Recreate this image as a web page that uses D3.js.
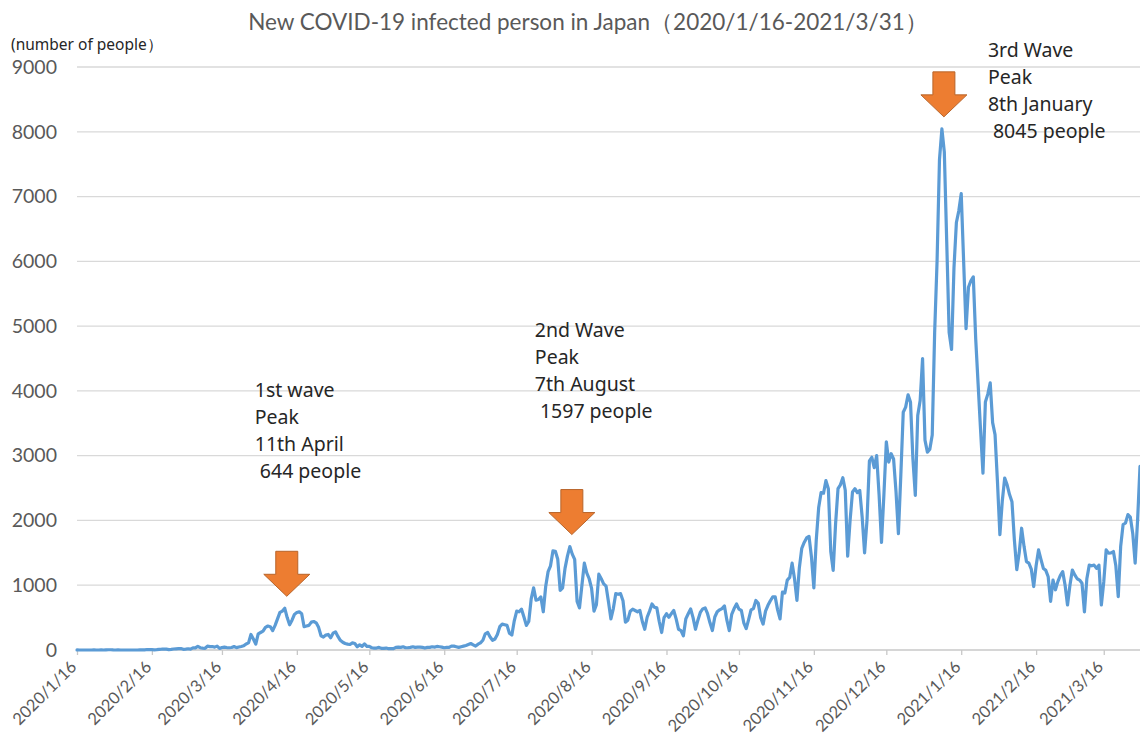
<!DOCTYPE html>
<html>
<head>
<meta charset="utf-8">
<script src="https://cdn.jsdelivr.net/npm/d3@7"></script>
<style>
  body { margin: 0; background: #fff; }
  svg { display: block; }
</style>
</head>
<body>
<svg id="chart" width="1140" height="751"></svg>
<script>
// Daily new infections in Japan, one array per month
const firstDay = "2020/1/16";
const jan2020 = [1,0,0,0,0,0,0,1,0,0,2,0,3,4,4,1];
const feb2020 = [0,1,0,0,0,0,0,0,0,0,1,1,3,8,6,5,3,5,9,12,13,14,6,10,15,18,21,23,11];
const mar2020 = [14,19,13,33,33,57,35,28,26,59,52,53,44,60,25,39,44,38,35,39,53,36,46,55,65,94,110,240,170,90,250];
const apr2020 = [270,290,350,370,360,300,380,480,580,600,644,500,390,460,550,580,590,560,360,370,380,430,440,420,350,220,200,230,240,190];
const may2020 = [260,280,210,150,120,100,90,85,110,100,50,80,55,95,55,55,35,30,30,40,25,25,30,20,20,20,40,45,40,50,35];
const jun2020 = [35,40,50,40,45,45,40,30,40,40,50,45,55,50,45,35,40,40,60,60,50,40,50,60,70,85,100,80,60,90];
const jul2020 = [110,150,250,270,200,150,170,240,360,400,390,380,260,230,450,600,590,630,510,380,440,790,960,770,780,820,590,980,1210,1300,1530];
const aug2020 = [1525,1400,920,960,1260,1450,1597,1480,1400,750,650,1000,1340,1190,1100,950,600,700,1170,1100,1020,985,740,480,640,870,860,870,760,430,460];
const sep2020 = [600,630,610,590,610,440,320,505,600,710,660,650,440,270,500,560,505,560,610,480,320,300,220,480,560,635,500,320,460,580];
const oct2020 = [635,650,560,420,300,510,590,620,640,680,460,300,550,640,710,630,610,420,330,470,620,640,765,720,500,400,600,690,760,820,820];
const nov2020 = [620,480,895,880,1080,1120,1340,1100,765,1270,1570,1660,1730,1755,1440,960,1700,2200,2430,2420,2615,2490,1520,1230,1950,2490,2550,2660,2465,1450];
const dec2020 = [2000,2440,2490,2430,2465,2050,1500,2000,2920,2975,2815,3000,2400,1660,2400,3215,2900,3030,2950,2450,1795,2700,3670,3750,3940,3830,2950,2385,3620,3850,4500];
const jan2021 = [3240,3055,3100,3320,4900,6000,7570,8045,7690,6300,4900,4640,5900,6600,6780,7045,6000,4960,5600,5700,5760,4800,4100,3400,2730,3830,3950,4125,3510,3325,2600];
const feb2021 = [1780,2300,2655,2550,2400,2290,1700,1240,1500,1880,1600,1365,1340,1250,980,1300,1545,1400,1260,1230,1130,750,1080,930,1055,1150,1210,1000];
const mar2021 = [695,1000,1235,1160,1100,1080,1030,590,1100,1310,1300,1310,1260,1310,695,1050,1545,1495,1500,1520,1300,825,1600,1935,1960,2090,2050,1800,1340,2000,2835];

const xTickLabels = ["2020/1/16","2020/2/16","2020/3/16","2020/4/16","2020/5/16","2020/6/16","2020/7/16",
  "2020/8/16","2020/9/16","2020/10/16","2020/11/16","2020/12/16","2021/1/16","2021/2/16","2021/3/16"];
const yTickValues = [0,1000,2000,3000,4000,5000,6000,7000,8000,9000];

const peakDates = ["2020/4/11","2020/8/7","2021/1/8"];
const peakValues = [644, 1597, 8045];
const peakHeads = [["1st wave","Peak","11th April"],["2nd Wave","Peak","7th August"],["3rd Wave","Peak","8th January"]];

const titleText = "New COVID-19 infected person in Japan（2020/1/16-2021/3/31）";
const unitText = "(number of people）";

// ---- build the series ----
const parse = d3.utcParse("%Y/%m/%d");
const start = parse(firstDay);
const values = [].concat(jan2020, feb2020, mar2020, apr2020, may2020, jun2020, jul2020,
  aug2020, sep2020, oct2020, nov2020, dec2020, jan2021, feb2021, mar2021);
const series = values.map((v, i) => ({ date: d3.utcDay.offset(start, i), value: v }));

const svg = d3.select("#chart");
const plot = { left: 77, right: 1140, top: 67, bottom: 650 };

const x = d3.scaleUtc()
  .domain([start, series[series.length - 1].date])
  .range([plot.left, plot.right]);
const y = d3.scaleLinear().domain([0, 9000]).range([plot.bottom, plot.top]);

const grey = "#595959";

// title
svg.append("text")
  .attr("x", 588).attr("y", 30)
  .attr("text-anchor", "middle")
  .attr("font-family", "Lato, 'Noto Sans', sans-serif")
  .attr("font-size", 22.5)
  .attr("fill", grey)
  .text(titleText);

// unit label
svg.append("text")
  .attr("x", 11).attr("y", 50)
  .attr("font-family", "'Noto Sans', sans-serif")
  .attr("font-size", 15.5)
  .attr("fill", "#262626")
  .text(unitText);

// horizontal gridlines
svg.append("g")
  .selectAll("line")
  .data(yTickValues)
  .join("line")
  .attr("x1", plot.left).attr("x2", plot.right)
  .attr("y1", d => y(d)).attr("y2", d => y(d))
  .attr("stroke", d => d === 0 ? "#c8c8c8" : "#d9d9d9")
  .attr("stroke-width", 1.3);

// y axis labels
const yAxis = d3.axisLeft(y).tickValues(yTickValues).tickSize(0).tickPadding(0)
  .tickFormat(d3.format("d"));
const gy = svg.append("g").attr("transform", "translate(57,0)").call(yAxis);
gy.select(".domain").remove();
gy.selectAll("text")
  .attr("font-family", "Lato, 'Noto Sans', sans-serif")
  .attr("font-size", 19.5)
  .attr("fill", grey);

// x axis ticks and rotated labels
const xTickDates = xTickLabels.map(parse);
const xAxis = d3.axisBottom(x).tickValues(xTickDates).tickSize(5)
  .tickFormat((d, i) => xTickLabels[i]);
const gx = svg.append("g").attr("transform", `translate(0,${plot.bottom})`).call(xAxis);
gx.select(".domain").remove();
gx.selectAll(".tick line").attr("stroke", "#c8c8c8").attr("stroke-width", 1.3);
gx.selectAll(".tick text")
  .attr("font-family", "Lato, 'Noto Sans', sans-serif")
  .attr("font-size", 16.5)
  .attr("fill", grey)
  .attr("text-anchor", "end")
  .attr("dy", null)
  .attr("y", 0)
  .attr("transform", "translate(0,18) rotate(-45)");

// the daily line
const line = d3.line().x(d => x(d.date)).y(d => y(d.value));
svg.append("path")
  .datum(series)
  .attr("d", line)
  .attr("fill", "none")
  .attr("stroke", "#5b9bd5")
  .attr("stroke-width", 3.2)
  .attr("stroke-linejoin", "round")
  .attr("stroke-linecap", "round");

// peak arrows and notes
const arrowPath = (cx, tipY) => {
  const h = 45, headH = 22, shaftW = 11, headW = 23;
  const top = tipY - h, neck = tipY - headH;
  return `M${cx - shaftW},${top}H${cx + shaftW}V${neck}H${cx + headW}L${cx},${tipY}L${cx - headW},${neck}H${cx - shaftW}Z`;
};
const noteOffsets = [-30, -35, 46];
const noteTops = [397, 337, 57];

peakDates.forEach((ds, i) => {
  const d = parse(ds);
  const px = x(d), py = y(peakValues[i]);
  svg.append("path")
    .attr("d", arrowPath(px + 2, py - 12))
    .attr("fill", "#ed7d31")
    .attr("stroke", "#b8642a")
    .attr("stroke-width", 1);

  const lines = peakHeads[i].concat([" " + peakValues[i] + " people"]);
  const t = svg.append("text")
    .attr("font-family", "'Noto Sans', sans-serif")
    .attr("font-size", 19.5)
    .attr("fill", "#262626")
    .style("white-space", "pre");
  lines.forEach((s, k) => {
    t.append("tspan")
      .attr("x", px + noteOffsets[i])
      .attr("y", noteTops[i] + k * 27)
      .text(s);
  });
});
</script>
</body>
</html>
